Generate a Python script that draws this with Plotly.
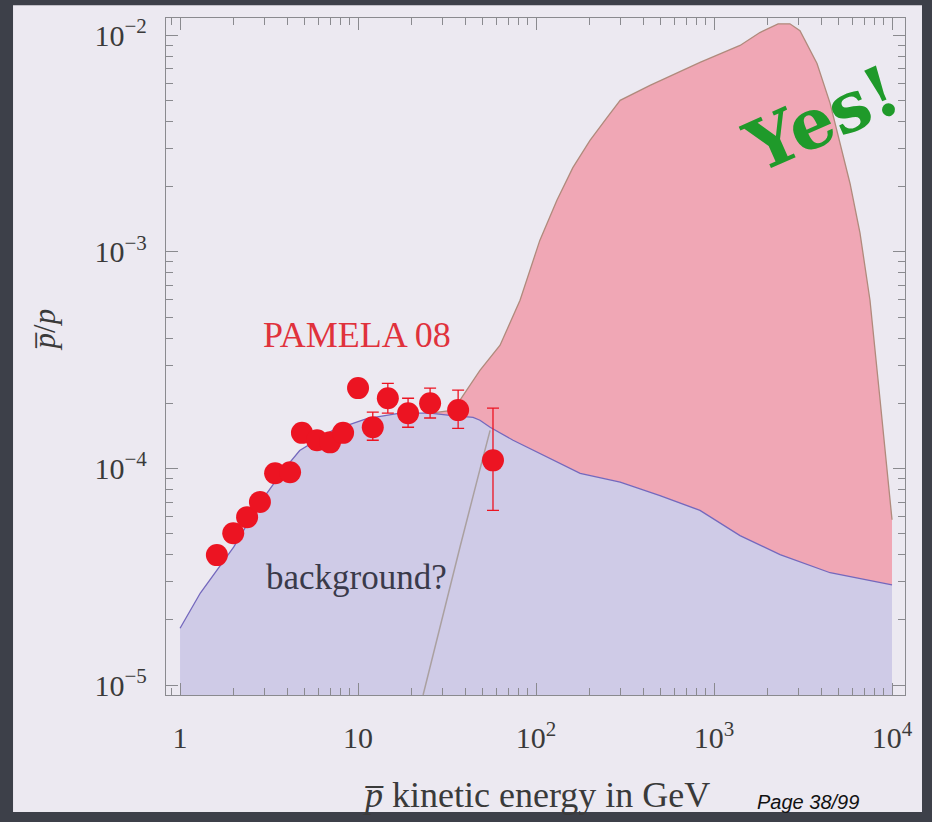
import plotly.graph_objects as go

# ---- data -------------------------------------------------------------
# PAMELA 08 antiproton / proton ratio (kinetic energy in GeV)
pamela_E = [1.61, 1.99, 2.38, 2.81, 3.42, 4.15, 4.84, 5.88, 6.96, 8.24,
            10.0, 12.1, 14.7, 19.1, 25.4, 36.5, 57.3]
pamela_ratio = [3.98e-5, 5.02e-5, 5.96e-5, 7.0e-5, 9.5e-5, 9.6e-5, 1.46e-4,
                1.35e-4, 1.32e-4, 1.46e-4, 2.35e-4, 1.55e-4, 2.11e-4,
                1.80e-4, 2.00e-4, 1.86e-4, 1.09e-4]
pamela_err_up = [0.3e-5, 0.4e-5, 0.5e-5, 0.6e-5, 0.8e-5, 0.8e-5, 1.2e-5,
                 1.2e-5, 1.2e-5, 1.2e-5, 2.0e-5, 2.7e-5, 3.6e-5, 3.1e-5,
                 3.5e-5, 4.4e-5, 8.1e-5]
pamela_err_down = [0.3e-5, 0.4e-5, 0.5e-5, 0.6e-5, 0.8e-5, 0.8e-5, 1.2e-5,
                   1.2e-5, 1.2e-5, 1.2e-5, 2.0e-5, 2.0e-5, 3.1e-5, 2.5e-5,
                   2.9e-5, 3.3e-5, 4.5e-5]

# astrophysical background prediction
bg_E = [1.0, 1.3, 2.0, 2.8, 3.8, 4.7, 7.2, 11.2, 17.2, 25.4, 32.9, 44.3,
        48.4, 55.2, 74.3, 115, 177, 297, 497, 834, 1400, 2350, 4490, 10000]
bg_ratio = [1.83e-5, 2.66e-5, 4.33e-5, 6.9e-5, 9.8e-5, 1.21e-4, 1.50e-4,
            1.70e-4, 1.80e-4, 1.80e-4, 1.76e-4, 1.72e-4, 1.67e-4, 1.55e-4,
            1.35e-4, 1.13e-4, 9.5e-5, 8.65e-5, 7.5e-5, 6.4e-5, 4.9e-5,
            4.0e-5, 3.3e-5, 2.9e-5]

# background + dark matter signal
tot_E = [25.4, 32.9, 37.4, 42.6, 48.4, 62.8, 81.3, 105, 131, 161, 201, 251,
         297, 437, 834, 1400, 1810, 2290, 2670, 3040, 3790, 4490, 5110,
         5810, 6610, 7520, 8570, 10000]
tot_ratio = [1.80e-4, 1.85e-4, 2.07e-4, 2.42e-4, 2.84e-4, 3.71e-4, 5.98e-4,
             1.13e-3, 1.73e-3, 2.45e-3, 3.27e-3, 4.18e-3, 5.01e-3, 5.87e-3,
             7.50e-3, 8.98e-3, 1.03e-2, 1.13e-2, 1.13e-2, 1.05e-2, 7.41e-3,
             4.85e-3, 3.17e-3, 2.07e-3, 1.22e-3, 5.98e-4, 2.07e-4, 5.8e-5]

# dark matter signal alone (rising edge)
sig_E = [23.2, 28.9, 37.4, 48.4, 55.2]
sig_ratio = [9.0e-6, 1.87e-5, 4.34e-5, 9.9e-5, 1.50e-4]

x_tickvals = [1, 10, 100, 1000, 10000]
x_ticktext = ["1", "10", "10<sup>2</sup>", "10<sup>3</sup>", "10<sup>4</sup>"]
y_tickvals = [1e-5, 1e-4, 1e-3, 1e-2]
y_ticktext = ["10<sup>\u22125</sup>", "10<sup>\u22124</sup>",
              "10<sup>\u22123</sup>", "10<sup>\u22122</sup>"]

Y_FLOOR = 1e-6

# ---- styles -----------------------------------------------------------
PANEL = "#ece9f1"
FRAME = "#3d4049"
BLUE_FILL = "#cfcbe7"
BLUE_LINE = "#7468bd"
PINK_FILL = "#f0a7b5"
BROWN_LINE = "#b08a7c"
SIG_LINE = "#aaa0a0"
RED = "#ec1422"
SERIF = "Liberation Serif"

fig = go.Figure()

# background area down to the bottom of the frame
fig.add_trace(go.Scatter(
    x=bg_E + [bg_E[-1], bg_E[0]],
    y=bg_ratio + [Y_FLOOR, Y_FLOOR],
    fill="toself", fillcolor=BLUE_FILL, mode="none", hoverinfo="skip"))

# signal area between the total and the background
bg_tail = [(e, r) for e, r in zip(bg_E, bg_ratio) if e >= tot_E[0]]
fig.add_trace(go.Scatter(
    x=tot_E + [e for e, _ in reversed(bg_tail)],
    y=tot_ratio + [r for _, r in reversed(bg_tail)],
    fill="toself", fillcolor=PINK_FILL, mode="none", hoverinfo="skip"))

fig.add_trace(go.Scatter(x=sig_E, y=sig_ratio, mode="lines",
                         line=dict(color=SIG_LINE, width=1.5)))
fig.add_trace(go.Scatter(x=bg_E, y=bg_ratio, mode="lines",
                         line=dict(color=BLUE_LINE, width=1.3)))
fig.add_trace(go.Scatter(x=tot_E, y=tot_ratio, mode="lines",
                         line=dict(color=BROWN_LINE, width=1.3)))

fig.add_trace(go.Scatter(
    x=pamela_E, y=pamela_ratio, mode="markers",
    marker=dict(color=RED, size=22, line=dict(width=0)),
    error_y=dict(type="data", symmetric=False, array=pamela_err_up,
                 arrayminus=pamela_err_down, color=RED, thickness=1.3,
                 width=6)))

# ---- axes -------------------------------------------------------------
x_minor = [m * 10 ** d for d in range(-1, 4) for m in range(2, 10)
           if 0.83 < m * 10 ** d < 11800]
y_minor = [m * 10 ** d for d in range(-6, -1) for m in range(2, 10)
           if 8.9e-6 < m * 10 ** d < 1.2e-2]

axis_common = dict(
    showline=True, linecolor="#8a8a8f", linewidth=1.4, mirror="ticks",
    ticks="inside", ticklen=12, tickwidth=1.2, tickcolor="#8a8a8f",
    showgrid=False, zeroline=False, tickmode="array",
    tickfont=dict(family=SERIF, size=30, color="#3a3a3a"),
)

fig.update_xaxes(
    type="log", range=[-0.079, 4.073],
    tickvals=x_tickvals, ticktext=x_ticktext, ticklabelstandoff=16,
    minor=dict(tickmode="array", tickvals=x_minor, ticks="inside",
               ticklen=7, tickcolor="#8a8a8f", tickwidth=1.1),
    **axis_common)
fig.update_yaxes(
    type="log", range=[-5.046, -1.92],
    tickvals=y_tickvals, ticktext=y_ticktext, ticklabelstandoff=12,
    minor=dict(tickmode="array", tickvals=y_minor, ticks="inside",
               ticklen=7, tickcolor="#8a8a8f", tickwidth=1.1),
    **axis_common)

# ---- slide panel and labels ------------------------------------------
fig.add_shape(type="rect", xref="paper", yref="paper",
              x0=-0.207, x1=1.023, y0=-0.173, y1=1.019,
              fillcolor=PANEL, line=dict(width=0), layer="below")


def label(x, y, text, size, color, family=SERIF, angle=0):
    fig.add_annotation(xref="paper", yref="paper", x=x, y=y, text=text,
                       textangle=angle, showarrow=False,
                       xanchor="center", yanchor="middle",
                       font=dict(family=family, size=size, color=color))


label(-0.165, 0.54, "<i>p\u0305</i>/<i>p</i>", 31, "#3a3a3a", angle=-90)
label(0.5, -0.148, "<i>p\u0305</i> kinetic energy in GeV", 36, "#3a3a3a")
label(0.869, -0.158, "<i>Page 38/99</i>", 20, "#111111",
      family="Liberation Sans")
label(0.258, 0.532, "PAMELA 08", 36, "#e0323c")
label(0.258, 0.174, "background?", 35, "#3a3a4a")
label(0.888, 0.852, "<b>Yes!</b>", 70, "#1f9a2a",
      family="DejaVu Serif", angle=-24)

fig.update_layout(
    width=932, height=822,
    margin=dict(l=166, r=27, t=18, b=127),
    paper_bgcolor=FRAME, plot_bgcolor=PANEL,
    showlegend=False,
)

fig.write_html("out.html")
